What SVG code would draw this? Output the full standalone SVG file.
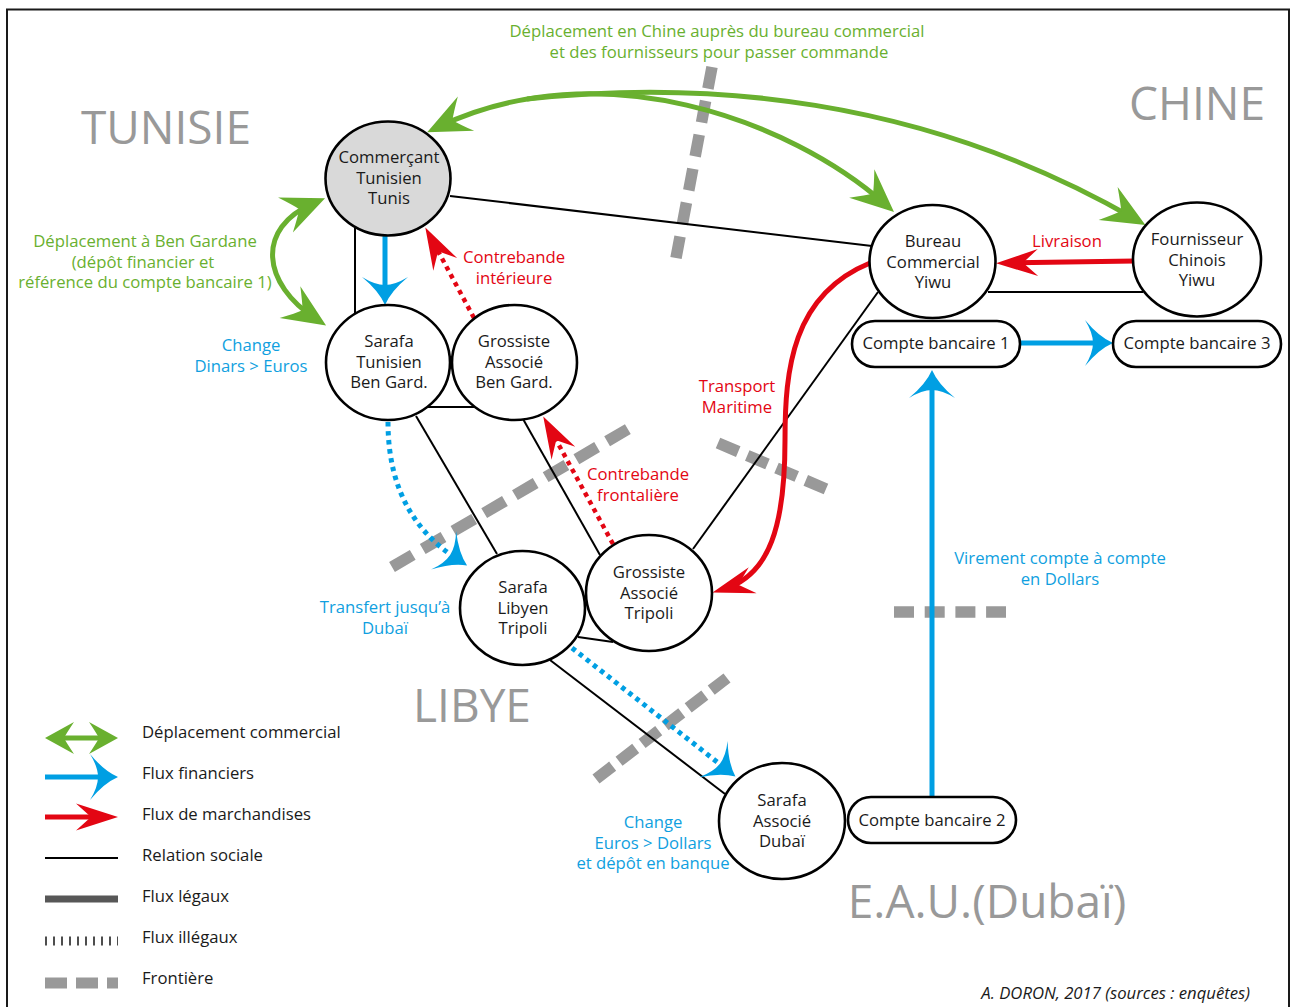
<svg xmlns="http://www.w3.org/2000/svg" width="1290" height="1007" viewBox="0 0 1290 1007">
<style>
text{font-family:"Open Sans","Liberation Sans",sans-serif;font-size:16.7px;}
.nt{fill:#1a1a1a;text-anchor:middle;}
.lg{fill:#1a1a1a;}
.gt{fill:#69b02f;text-anchor:middle;}
.bt{fill:#109fe0;text-anchor:middle;}
.rt{fill:#e30613;text-anchor:middle;}
.reg{fill:#999999;font-size:46px;text-anchor:middle;}
.node{fill:#fff;stroke:#000;stroke-width:2.6;}
.soc{fill:none;stroke:#000;stroke-width:2;}
.front{fill:none;stroke:#999999;stroke-width:11.5;}
.ga{fill:none;stroke:#69b02f;stroke-width:5;}
.ba{fill:none;stroke:#009fe3;stroke-width:5;}
.ra{fill:none;stroke:#e30613;stroke-width:5;}
.bd{fill:none;stroke:#009fe3;stroke-width:5;stroke-dasharray:4.5 4.5;}
.rd{fill:none;stroke:#e30613;stroke-width:4.5;stroke-dasharray:4.5 4.5;}
</style>
<defs>
<marker id="mg" markerUnits="userSpaceOnUse" orient="auto-start-reverse" refX="-12" refY="0" markerWidth="80" markerHeight="80" style="overflow:visible">
<path d="M0,0 L-43,-19 Q-32,-6 -28,0 Q-32,6 -43,19 Z" fill="#69b02f"/>
</marker>
<marker id="mb" markerUnits="userSpaceOnUse" orient="auto" refX="-12" refY="0" markerWidth="80" markerHeight="80" style="overflow:visible">
<path d="M0,0 Q-14,-6 -28,-23 Q-20,-10 -20,0 Q-20,10 -28,23 Q-14,6 0,0 Z" fill="#009fe3"/>
</marker>
<marker id="mr" markerUnits="userSpaceOnUse" orient="auto" refX="-12" refY="0" markerWidth="80" markerHeight="80" style="overflow:visible">
<path d="M0,0 L-42,-13.5 L-27,0 L-42,13.5 Z" fill="#e30613"/>
</marker>
</defs>
<rect x="0" y="0" width="1290" height="1007" fill="#fff"/>
<rect x="7" y="9.5" width="1282" height="1010" fill="none" stroke="#1a1a1a" stroke-width="2"/>

<g id="regions">
<text class="reg" x="166" y="144">TUNISIE</text>
<text class="reg" x="1197" y="120">CHINE</text>
<text class="reg" x="472" y="722">LIBYE</text>
<text class="reg" x="987" y="918">E.A.U.(Dubaï)</text>
</g>

<g id="frontieres">
<line class="front" x1="712" y1="67" x2="676" y2="258" stroke-dasharray="22 12.5"/>
<line class="front" x1="392" y1="567" x2="628" y2="429" stroke-dasharray="24 11.6"/>
<line class="front" x1="718" y1="443" x2="826" y2="489" stroke-dasharray="22 9.8"/>
<line class="front" x1="596" y1="779" x2="727" y2="678" stroke-dasharray="21 8.1"/>
<line class="front" x1="894" y1="612" x2="1006" y2="612" stroke-dasharray="20 10.7"/>
</g>

<g id="connectors">
<line class="soc" x1="450" y1="196" x2="872" y2="246"/>
<line class="soc" x1="355" y1="226" x2="355" y2="314"/>
<line class="soc" x1="428" y1="407" x2="476" y2="407"/>
<line class="soc" x1="416" y1="416" x2="497" y2="554"/>
<line class="soc" x1="523" y1="419" x2="600" y2="555"/>
<line class="soc" x1="693" y1="549" x2="878" y2="292"/>
<line class="soc" x1="578" y1="637" x2="613" y2="642"/>
<line class="soc" x1="550" y1="660" x2="725" y2="794"/>
<line class="soc" x1="988" y1="292" x2="1143" y2="292"/>

<path class="ga" d="M438,127 C600,50 790,120 885,204" marker-start="url(#mg)" marker-end="url(#mg)"/>
<path class="ga" d="M527,99 C700,80 920,95 1135,219" marker-end="url(#mg)"/>
<path class="ga" d="M314,203 C255,228 262,284 316,319" marker-start="url(#mg)" marker-end="url(#mg)"/>

<path class="ba" d="M385,236 L385,293" marker-end="url(#mb)"/>
<path class="ba" d="M1020,343 L1101,343" marker-end="url(#mb)"/>
<path class="ba" d="M932,797 L932,382" marker-end="url(#mb)"/>
<path class="bd" d="M388,422 C388,495 420,535 457,559" marker-end="url(#mb)"/>
<path class="bd" d="M572,648 L726,769" marker-end="url(#mb)"/>

<path class="ra" d="M1135,261 L1008,263" marker-end="url(#mr)"/>
<path class="ra" d="M870,263 C792,295 785,370 785,440 C785,525 770,575 724,589" marker-end="url(#mr)"/>
<path class="rd" d="M474,318 L431,238" marker-end="url(#mr)"/>
<path class="rd" d="M613,544 L549,427" marker-end="url(#mr)"/>
</g>

<g id="n-commercant">
<ellipse cx="388" cy="178.5" rx="62.5" ry="57" fill="#d9d9d9" stroke="#000" stroke-width="2.6"/>
<text class="nt" x="389" y="163">Commerçant<tspan x="389" dy="20.5">Tunisien</tspan><tspan x="389" dy="20.5">Tunis</tspan></text>
</g>
<g id="n-sarafa-tn">
<ellipse class="node" cx="388" cy="362.5" rx="62" ry="57.5"/>
<text class="nt" x="389" y="347">Sarafa<tspan x="389" dy="20.5">Tunisien</tspan><tspan x="389" dy="20.5">Ben Gard.</tspan></text>
</g>
<g id="n-grossiste-bg">
<ellipse class="node" cx="514.5" cy="362.5" rx="62.5" ry="57.5"/>
<text class="nt" x="514" y="347">Grossiste<tspan x="514" dy="20.5">Associé</tspan><tspan x="514" dy="20.5">Ben Gard.</tspan></text>
</g>
<g id="n-sarafa-ly">
<ellipse class="node" cx="522.5" cy="608" rx="62.5" ry="57"/>
<text class="nt" x="523" y="593">Sarafa<tspan x="523" dy="20.5">Libyen</tspan><tspan x="523" dy="20.5">Tripoli</tspan></text>
</g>
<g id="n-grossiste-tr">
<ellipse class="node" cx="649" cy="593" rx="63" ry="58"/>
<text class="nt" x="649" y="578">Grossiste<tspan x="649" dy="20.5">Associé</tspan><tspan x="649" dy="20.5">Tripoli</tspan></text>
</g>
<g id="n-bureau">
<ellipse class="node" cx="932.5" cy="261.5" rx="63" ry="56.5"/>
<text class="nt" x="933" y="247">Bureau<tspan x="933" dy="20.5">Commercial</tspan><tspan x="933" dy="20.5">Yiwu</tspan></text>
</g>
<g id="n-fournisseur">
<ellipse class="node" cx="1197" cy="259.5" rx="64" ry="57"/>
<text class="nt" x="1197" y="245">Fournisseur<tspan x="1197" dy="20.5">Chinois</tspan><tspan x="1197" dy="20.5">Yiwu</tspan></text>
</g>
<g id="n-sarafa-dubai">
<ellipse class="node" cx="782" cy="821" rx="63" ry="58"/>
<text class="nt" x="782" y="806">Sarafa<tspan x="782" dy="20.5">Associé</tspan><tspan x="782" dy="20.5">Dubaï</tspan></text>
</g>
<g id="n-compte1">
<rect class="node" x="852" y="321" width="168" height="46" rx="23"/>
<text class="nt" x="936" y="349">Compte bancaire 1</text>
</g>
<g id="n-compte3">
<rect class="node" x="1113" y="321" width="168" height="46" rx="23"/>
<text class="nt" x="1197" y="349">Compte bancaire 3</text>
</g>
<g id="n-compte2">
<rect class="node" x="848" y="797" width="168" height="46" rx="23"/>
<text class="nt" x="932" y="826">Compte bancaire 2</text>
</g>

<g id="labels">
<text class="gt" x="717" y="36.5">Déplacement en Chine auprès du bureau commercial<tspan x="719" dy="21">et des fournisseurs pour passer commande</tspan></text>
<text class="gt" x="145" y="247">Déplacement à Ben Gardane<tspan x="143" dy="20.5">(dépôt financier et</tspan><tspan x="145" dy="20.5">référence du compte bancaire 1)</tspan></text>
<text class="bt" x="251" y="351">Change<tspan x="251" dy="21">Dinars &gt; Euros</tspan></text>
<text class="rt" x="514" y="262.5">Contrebande<tspan x="514" dy="21">intérieure</tspan></text>
<text class="rt" x="1067" y="247">Livraison</text>
<text class="rt" x="737" y="391.5">Transport<tspan x="737" dy="21">Maritime</tspan></text>
<text class="rt" x="638" y="479.5">Contrebande<tspan x="638" dy="21">frontalière</tspan></text>
<text class="bt" x="385" y="612.5">Transfert jusqu’à<tspan x="385" dy="21">Dubaï</tspan></text>
<text class="bt" x="1060" y="563.5">Virement compte à compte<tspan x="1060" dy="21">en Dollars</tspan></text>
<text class="bt" x="653" y="828">Change<tspan x="653" dy="20.5">Euros &gt; Dollars</tspan><tspan x="653" dy="20.5">et dépôt en banque</tspan></text>
<text x="1250" y="999" fill="#1a1a1a" font-style="italic" font-size="15" text-anchor="end">A. DORON, 2017 (sources : enquêtes)</text>
</g>

<g id="legend">
<line x1="62" y1="738" x2="101" y2="738" stroke="#69b02f" stroke-width="5"/>
<path d="M45,738 L74,722 Q66,734 64,738 Q66,742 74,754 Z" fill="#69b02f"/>
<path d="M118,738 L89,722 Q97,734 99,738 Q97,742 89,754 Z" fill="#69b02f"/>
<path class="ba" d="M45,777 L106,777" marker-end="url(#mb)"/>
<path class="ra" d="M45,817 L106,817" marker-end="url(#mr)"/>
<line x1="45" y1="858" x2="118" y2="858" stroke="#000" stroke-width="2"/>
<line x1="45" y1="899" x2="118" y2="899" stroke="#575757" stroke-width="7"/>
<line x1="45" y1="941" x2="118" y2="941" stroke="#4d4d4d" stroke-width="9" stroke-dasharray="2 6"/>
<line x1="45" y1="983" x2="118" y2="983" stroke="#999999" stroke-width="11" stroke-dasharray="22 9"/>
<text class="lg" x="142" y="738">Déplacement commercial</text>
<text class="lg" x="142" y="779">Flux financiers</text>
<text class="lg" x="142" y="820">Flux de marchandises</text>
<text class="lg" x="142" y="861">Relation sociale</text>
<text class="lg" x="142" y="902">Flux légaux</text>
<text class="lg" x="142" y="943">Flux illégaux</text>
<text class="lg" x="142" y="984">Frontière</text>
</g>
</svg>
